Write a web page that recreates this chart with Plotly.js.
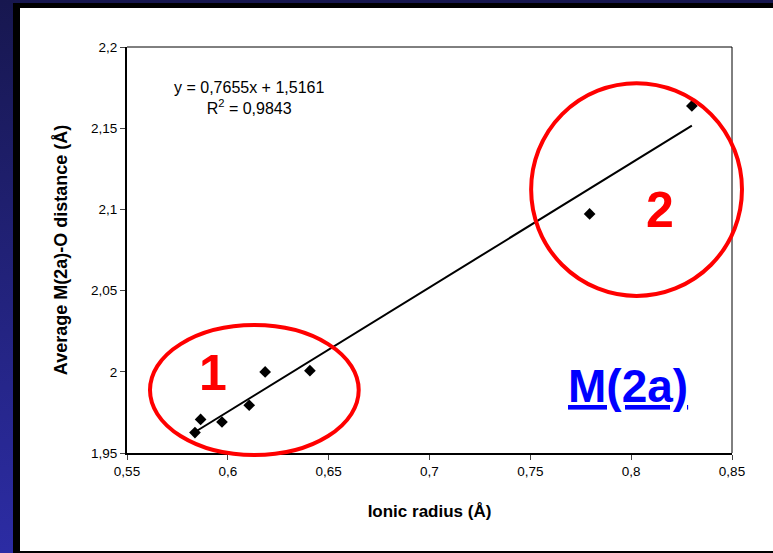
<!DOCTYPE html>
<html>
<head>
<meta charset="utf-8">
<script src="https://cdn.plot.ly/plotly-3.0.1.min.js"></script>
<style>
  html, body { margin: 0; padding: 0; width: 773px; height: 553px; overflow: hidden; }
  body { background: linear-gradient(180deg, #17174f 0%, #22227a 50%, #2c2ca4 100%); position: relative; }
  #frame { position: absolute; left: 13px; top: 3px; right: 0; bottom: 0; background: #ffffff;
           border-left: 7px solid #000; border-top: 5px solid #000; border-bottom: 2px solid #000; box-sizing: border-box; }
  #chart { position: absolute; left: 0; top: 0; width: 773px; height: 553px; }
</style>
</head>
<body>
<div id="frame"></div>
<div id="chart"></div>
<script>
// Ionic radius (Å) and average M(2a)-O distance (Å)
const ionicRadius = [0.5837, 0.5865, 0.5971, 0.6106, 0.6185, 0.6407, 0.7794, 0.8301];
const avgDistance = [1.9626, 1.9707, 1.9691, 1.9794, 1.9999, 2.0007, 2.0972, 2.1637];
// Linear trend reported on the chart
const slope = 0.7655;
const intercept = 1.5161;
const trendX = [0.5837, 0.8301];
const trendY = trendX.map(x => slope * x + intercept);
const equationText = "y = 0,7655x + 1,5161<br>R<sup>2</sup> = 0,9843";
const xTicks = [0.55, 0.6, 0.65, 0.7, 0.75, 0.8, 0.85];
const yTicks = [1.95, 2, 2.05, 2.1, 2.15, 2.2];

const font = "Liberation Sans, Arial, sans-serif";

const traces = [
  { x: trendX, y: trendY, mode: "lines", type: "scatter",
    line: { color: "#000", width: 2 }, hoverinfo: "skip" },
  { x: ionicRadius, y: avgDistance, mode: "markers", type: "scatter",
    marker: { symbol: "diamond", size: 9, color: "#000" } }
];

const layout = {
  width: 773, height: 553,
  margin: { l: 127, r: 41, t: 47, b: 100 },
  paper_bgcolor: "rgba(0,0,0,0)",
  plot_bgcolor: "#ffffff",
  separators: ", ",
  showlegend: false,
  font: { family: font, color: "#000", size: 13 },
  xaxis: {
    range: [0.55, 0.85], tickvals: xTicks, ticks: "outside", ticklen: 5, tickwidth: 1,
    showline: true, linecolor: "#000", linewidth: 2, showgrid: false, zeroline: false,
    tickfont: { size: 13.5, family: font },
    title: { text: "<b>Ionic radius (Å)</b>", font: { size: 17, family: font }, standoff: 27 }
  },
  yaxis: {
    range: [1.95, 2.2], tickvals: yTicks, ticks: "outside", ticklen: 5, tickwidth: 1,
    showline: true, linecolor: "#000", linewidth: 2, showgrid: false, zeroline: false,
    tickfont: { size: 13.5, family: font },
    title: { text: "<b>Average M(2a)-O distance (Å)</b>", font: { size: 18, family: font }, standoff: 19 }
  },
  shapes: [
    { type: "line", xref: "paper", yref: "paper", x0: 0, x1: 1, y0: 1, y1: 1, line: { color: "#000", width: 1 } },
    { type: "line", xref: "paper", yref: "paper", x0: 1, x1: 1, y0: 0, y1: 1, line: { color: "#000", width: 1 } },
    { type: "circle", xref: "paper", yref: "paper", x0: 0.038, x1: 0.383, y0: -0.005, y1: 0.315,
      line: { color: "#ff0000", width: 4 } },
    { type: "circle", xref: "paper", yref: "paper", x0: 0.668, x1: 1.0165, y0: 0.387, y1: 0.911,
      line: { color: "#ff0000", width: 4 } }
  ],
  annotations: [
    { xref: "paper", yref: "paper", x: 0.201, y: 0.874, xanchor: "center", yanchor: "middle",
      text: equationText, showarrow: false, font: { size: 16, family: font }, align: "center" },
    { xref: "paper", yref: "paper", x: 0.142, y: 0.197, xanchor: "center", yanchor: "middle",
      text: "<b>1</b>", showarrow: false, font: { size: 50, family: font, color: "#ff0000" } },
    { xref: "paper", yref: "paper", x: 0.881, y: 0.599, xanchor: "center", yanchor: "middle",
      text: "<b>2</b>", showarrow: false, font: { size: 50, family: font, color: "#ff0000" } },
    { xref: "paper", yref: "paper", x: 0.828, y: 0.165, xanchor: "center", yanchor: "middle",
      text: "<b><u>M(2a)</u></b>", showarrow: false, font: { size: 46, family: font, color: "#0000ff" } }
  ]
};

Plotly.newPlot("chart", traces, layout, { displayModeBar: false, staticPlot: true });
</script>
</body>
</html>
